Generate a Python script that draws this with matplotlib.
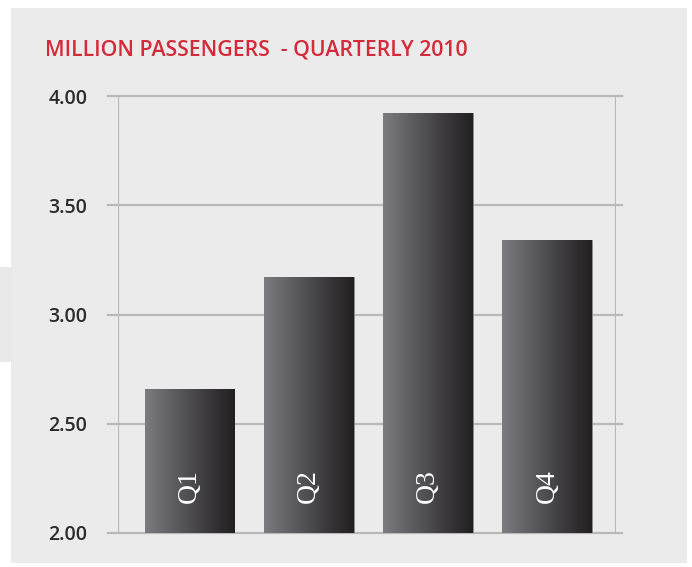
import matplotlib
matplotlib.use("Agg")
import matplotlib.pyplot as plt
from matplotlib.patches import Rectangle
from matplotlib.colors import LinearSegmentedColormap
import numpy as np

categories = ["Q1", "Q2", "Q3", "Q4"]
values = [2.66, 3.17, 3.92, 3.34]
yticks = [2.00, 2.50, 3.00, 3.50, 4.00]
ytick_labels = ["2.00", "2.50", "3.00", "3.50", "4.00"]
title = "MILLION PASSENGERS  - QUARTERLY 2010"

W, H = 692, 567
fig = plt.figure(figsize=(W / 100, H / 100), dpi=100)
fig.patch.set_facecolor("white")

# background panel and left tab
panel_col = "#ebebeb"
fig.patches.append(Rectangle((11 / W, 1 - 563 / H), (687 - 11) / W, (563 - 8) / H,
                             transform=fig.transFigure, facecolor=panel_col,
                             edgecolor="none", zorder=-2))
fig.patches.append(Rectangle((0, 1 - 362 / H), 12 / W, (362 - 267) / H,
                             transform=fig.transFigure, facecolor="#e8e8e8",
                             edgecolor="none", zorder=-2))

ax = fig.add_axes([118 / W, 1 - 533 / H, (616 - 118) / W, (533 - 96) / H])
ax.set_zorder(2)
ax.set_facecolor("none")
ax.set_ylim(2.0, 4.0)
ax.set_xlim(-0.6, 3.58)

grid_col = "#b9b9b9"
for t in yticks:
    ax.axhline(t, xmin=-0.02, xmax=1.012, color=grid_col, lw=1.6,
               clip_on=False, zorder=1)
for s in ax.spines.values():
    s.set_visible(False)
ax.axvline(-0.6, ymin=0, ymax=1, color=grid_col, lw=1.6, zorder=1)
ax.axvline(3.58, ymin=0, ymax=1, color=grid_col, lw=1.6, zorder=1)

x = np.arange(len(categories))
bw = 0.755
bars = ax.bar(x, values, width=bw, color="#444444", edgecolor="#8a8a8a",
              linewidth=0.6, zorder=2)

grad = np.linspace(0, 1, 256).reshape(1, -1)
cmap = LinearSegmentedColormap.from_list(
    "bar", ["#7c7c80", "#5c5c60", "#3e3c3e", "#211f20"])
for xi, v, b in zip(x, values, bars):
    im = ax.imshow(grad, cmap=cmap, aspect="auto",
                   extent=(xi - bw / 2, xi + bw / 2, 2.0, v), zorder=3,
                   interpolation="bilinear")
    im.set_clip_path(b)
ax.set_xlim(-0.6, 3.58)
ax.set_ylim(2.0, 4.0)

for xi, c in zip(x, categories):
    ax.text(xi, 2.215, c, rotation=90, ha="center", va="center", color="white",
            fontsize=20, family="Liberation Serif", zorder=4)

ax.set_xticks([])
ax.set_yticks(yticks)
ax.set_yticklabels(ytick_labels, fontsize=14, color="#2b2b2b",
                   family="Open Sans", fontweight="semibold")
ax.tick_params(axis="y", length=0, pad=22)

fig.text(45 / W, 1 - 50 / H, title, color="#d42a3a", fontsize=15.3,
         family="Open Sans", fontweight="semibold", ha="left",
         va="center")

fig.savefig("out.png", dpi=100, facecolor=fig.get_facecolor())
